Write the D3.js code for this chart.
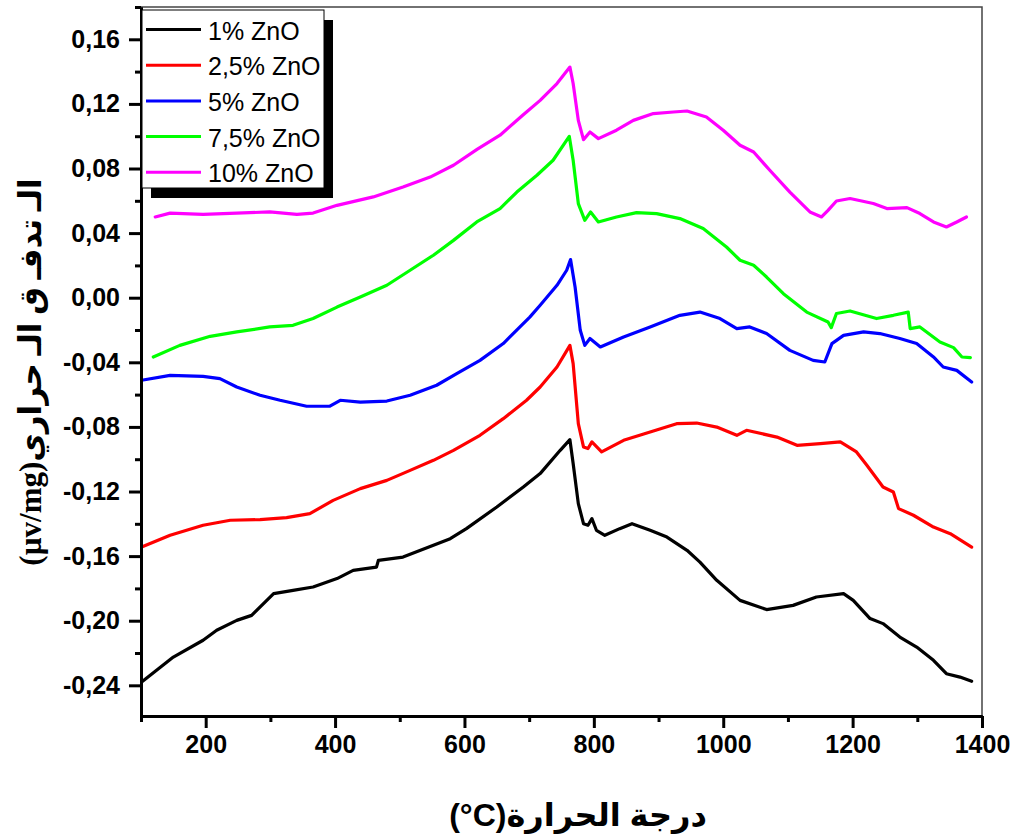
<!DOCTYPE html>
<html>
<head>
<meta charset="utf-8">
<script src="https://cdn.jsdelivr.net/npm/d3@7"></script>
<style>
	body { margin: 0; background: #fff; }
	svg { display: block; }
</style>
</head>
<body>
<svg id="chart" width="1011" height="837"></svg>
<script>
// series labels and colours (legend order)
const seriesNames = ["1% ZnO", "2,5% ZnO", "5% ZnO", "7,5% ZnO", "10% ZnO"];
const seriesColours = ["#000000", "#ff0000", "#0000ff", "#00ff00", "#ff00ff"];

// temperature (°C) / heat flow (µv/mg)
const temp1 = [101,150,196,217,248,271,305,335,366,403,428,464,467,505,552,578,603,650,691,717,748,763,768,776,784,791,797,804,817,840,859,887,913,944,964,990,1026,1067,1108,1144,1186,1201,1227,1247,1273,1299,1325,1345,1366,1384];
const flow1 = [-0.238,-0.2225,-0.2121,-0.2059,-0.1998,-0.1967,-0.1832,-0.1812,-0.1791,-0.1739,-0.1688,-0.1668,-0.1626,-0.1606,-0.1533,-0.1492,-0.1430,-0.1296,-0.1172,-0.1089,-0.0945,-0.0879,-0.1027,-0.1275,-0.1399,-0.1409,-0.1368,-0.1440,-0.1471,-0.1430,-0.1399,-0.1440,-0.1482,-0.1564,-0.1637,-0.1750,-0.1874,-0.1931,-0.1905,-0.1853,-0.1832,-0.1874,-0.1987,-0.2018,-0.2101,-0.2163,-0.2245,-0.2328,-0.2349,-0.2375];

const temp25 = [101,145,196,238,284,325,361,397,439,480,516,552,583,624,660,696,717,743,763,768,776,784,791,797,812,846,887,928,959,990,1021,1036,1083,1114,1150,1181,1206,1222,1247,1263,1271,1294,1325,1351,1384];
const flow25 = [-0.1544,-0.1471,-0.1409,-0.1378,-0.1374,-0.1362,-0.1337,-0.1255,-0.1182,-0.1131,-0.1069,-0.1007,-0.0945,-0.0852,-0.0749,-0.0635,-0.0553,-0.0429,-0.0295,-0.0408,-0.0780,-0.0924,-0.0934,-0.0893,-0.0955,-0.0883,-0.0832,-0.0780,-0.0776,-0.0801,-0.0852,-0.0821,-0.0863,-0.0914,-0.0903,-0.0893,-0.0955,-0.1038,-0.1172,-0.1203,-0.1306,-0.1347,-0.1420,-0.1461,-0.1544];

const temp5 = [101,145,196,222,248,284,315,356,392,408,439,480,516,557,588,624,660,701,717,743,758,764,771,779,786,794,810,846,887,933,964,995,1021,1041,1067,1103,1139,1157,1168,1186,1217,1242,1273,1299,1325,1340,1361,1384];
const flow5 = [-0.0511,-0.0481,-0.0487,-0.0501,-0.0553,-0.0604,-0.0635,-0.0672,-0.0672,-0.0635,-0.0646,-0.0640,-0.0604,-0.0542,-0.0470,-0.0388,-0.0284,-0.0120,-0.0047,0.0077,0.0170,0.0236,0.0066,-0.0202,-0.0295,-0.0253,-0.0305,-0.0243,-0.0181,-0.0109,-0.0089,-0.0129,-0.0191,-0.0181,-0.0222,-0.0326,-0.0388,-0.0398,-0.0284,-0.0233,-0.0212,-0.0222,-0.0253,-0.0284,-0.0367,-0.0429,-0.0450,-0.0522];

const temp75 = [119,160,207,248,299,335,366,403,439,480,516,552,583,619,655,681,712,737,762,768,776,786,795,807,835,866,897,933,969,1005,1026,1047,1067,1093,1129,1162,1167,1175,1196,1237,1263,1286,1289,1304,1335,1356,1369,1382];
const flow75 = [-0.0367,-0.0295,-0.0239,-0.0212,-0.0181,-0.0171,-0.0129,-0.0058,0.0004,0.0077,0.0170,0.0263,0.0355,0.0469,0.0552,0.0654,0.0758,0.0851,0.0999,0.0851,0.0583,0.0479,0.0531,0.0469,0.0500,0.0527,0.0521,0.0490,0.0428,0.0314,0.0232,0.0201,0.0128,0.0025,-0.0089,-0.0150,-0.0185,-0.0098,-0.0082,-0.0129,-0.0109,-0.0089,-0.0191,-0.0181,-0.0274,-0.0309,-0.0367,-0.0371];

const temp10 = [122,145,196,248,299,341,366,403,459,505,547,583,620,655,690,717,743,763,768,776,784,794,807,835,861,892,923,944,974,1000,1026,1047,1072,1103,1134,1152,1162,1175,1196,1232,1253,1284,1304,1325,1345,1361,1376];
const flow10 = [0.0500,0.0524,0.0516,0.0524,0.0531,0.0516,0.0524,0.0572,0.0624,0.0685,0.0747,0.0820,0.0920,0.1006,0.1130,0.1222,0.1326,0.1428,0.1326,0.1098,0.0979,0.1026,0.0985,0.1037,0.1098,0.1140,0.1150,0.1156,0.1119,0.1037,0.0944,0.0902,0.0789,0.0654,0.0531,0.0500,0.0541,0.0599,0.0614,0.0583,0.0552,0.0558,0.0521,0.0469,0.0438,0.0469,0.0500];

// axis ticks
const xMajor = [200, 400, 600, 800, 1000, 1200, 1400];
const xMinor = [100, 300, 500, 700, 900, 1100, 1300];
const yMajor = [-0.24, -0.20, -0.16, -0.12, -0.08, -0.04, 0.00, 0.04, 0.08, 0.12, 0.16];
const yMinor = [-0.22, -0.18, -0.14, -0.10, -0.06, -0.02, 0.02, 0.06, 0.10, 0.14, 0.18];

const xTitle = "(°C)درجة الحرارة";
const yTitle = "(µv/mg)الـ  تدفـ ق  الـ حراري";

var allTemps = [temp1, temp25, temp5, temp75, temp10];
var allFlows = [flow1, flow25, flow5, flow75, flow10];

var series = seriesNames.map(function(name, i) {
	return {
		name: name,
		colour: seriesColours[i],
		values: allTemps[i].map((t, j) => ({ t: t, v: allFlows[i][j] }))
	};
});

// plot box (window.top is reserved, so use a prefix)
var boxL = 141, boxR = 982, boxT = 7, boxB = 716;

var svg = d3.select("#chart");

var x = d3.scaleLinear().domain([100, 1400]).range([boxL, boxR]);
var y = d3.scaleLinear().domain([-0.259, 0.18]).range([boxB, boxT]);

var fmtY = v => d3.format(".2f")(v).replace("−", "-").replace(".", ",");

// thin frame on top and right
svg.append("path")
	.attr("d", `M${boxL},${boxT}H${boxR}V${boxB}`)
	.attr("fill", "none")
	.attr("stroke", "#444")
	.attr("stroke-width", 1.5);

// curves
var line = d3.line()
	.x(d => x(d.t))
	.y(d => y(d.v));

svg.append("g")
	.selectAll("path")
	.data(series)
	.enter()
	.append("path")
	.attr("d", d => line(d.values))
	.attr("fill", "none")
	.attr("stroke", d => d.colour)
	.attr("stroke-width", 3.2)
	.attr("stroke-linejoin", "round")
	.attr("stroke-linecap", "round");

// minor ticks first, then major ticks with labels
svg.append("g")
	.attr("transform", `translate(0,${boxB})`)
	.call(d3.axisBottom(x).tickValues(xMinor).tickSize(6).tickSizeOuter(0).tickFormat(""));
svg.append("g")
	.attr("transform", `translate(${boxL},0)`)
	.call(d3.axisLeft(y).tickValues(yMinor).tickSize(6).tickSizeOuter(0).tickFormat(""));

svg.append("g")
	.attr("transform", `translate(0,${boxB})`)
	.call(d3.axisBottom(x).tickValues(xMajor).tickSizeInner(12).tickSizeOuter(0).tickPadding(7).tickFormat(d3.format("d")));
svg.append("g")
	.attr("transform", `translate(${boxL},0)`)
	.call(d3.axisLeft(y).tickValues(yMajor).tickSizeInner(12).tickSizeOuter(0).tickPadding(9).tickFormat(fmtY));

svg.selectAll(".tick line").attr("stroke", "#000").attr("stroke-width", 3);
svg.selectAll(".domain").attr("stroke", "#000").attr("stroke-width", 3);
svg.selectAll(".tick text")
	.attr("fill", "#000")
	.style("font-family", "'Liberation Sans', Arial, sans-serif")
	.style("font-weight", "bold")
	.style("font-size", "25px");

// legend with drop shadow
var legend = svg.append("g").attr("transform", "translate(142,10)");
legend.append("rect")
	.attr("x", 9).attr("y", 10)
	.attr("width", 182).attr("height", 178)
	.attr("fill", "#000");
legend.append("rect")
	.attr("width", 182).attr("height", 178)
	.attr("fill", "#fff")
	.attr("stroke", "#000")
	.attr("stroke-width", 1);

var rows = legend.selectAll(".row")
	.data(series)
	.enter()
	.append("g")
	.attr("class", "row")
	.attr("transform", (d, i) => `translate(0,${19.5 + i * 35.7})`);
rows.append("line")
	.attr("x1", 4).attr("x2", 59)
	.attr("stroke", d => d.colour)
	.attr("stroke-width", 3);
rows.append("text")
	.attr("x", 66).attr("y", 10)
	.text(d => d.name)
	.style("font-family", "'Liberation Sans', Arial, sans-serif")
	.style("font-size", "25px");

// axis titles
svg.append("text")
	.attr("x", 578).attr("y", 826)
	.attr("text-anchor", "middle")
	.text(xTitle)
	.style("font-family", "'Liberation Sans', Arial, 'DejaVu Sans', sans-serif")
	.style("font-weight", "bold")
	.style("font-size", "32px");

svg.append("text")
	.attr("transform", "translate(41,372) rotate(-90)")
	.attr("text-anchor", "middle")
	.text(yTitle)
	.style("font-family", "'Liberation Serif', 'Times New Roman', 'DejaVu Sans', serif")
	.style("font-weight", "bold")
	.style("font-size", "31px");
</script>
</body>
</html>
